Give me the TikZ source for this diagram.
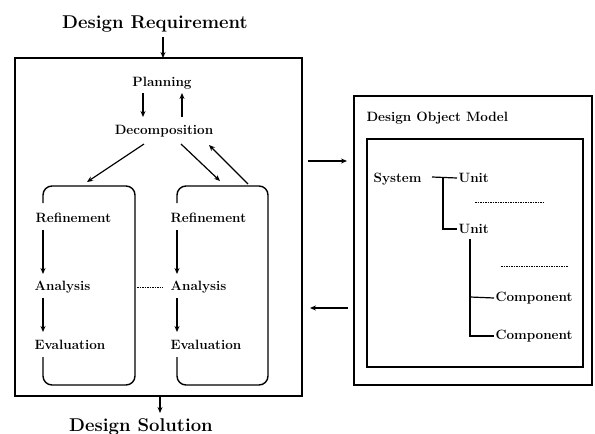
\documentclass[tikz,border=0pt]{standalone}
\usetikzlibrary{arrows.meta}
\begin{document}
\begin{tikzpicture}[x=1pt,y=-1pt,
  line width=1.2pt,
  lbl/.style={font=\fontsize{13.5}{16}\selectfont\bfseries, inner sep=1pt},
  ttl/.style={font=\fontsize{18.5}{22}\selectfont\bfseries, inner sep=1pt},
  arr/.style={-{Stealth[length=6pt,width=5pt]}},
  frame/.style={line width=1.5pt},
  cycle/.style={line width=1.4pt, rounded corners=9},
  dots/.style={line width=1pt, dash pattern=on 1.5pt off 1pt}]
\useasboundingbox (0,0) rectangle (595,434);

% titles
\node[ttl] (req) at (155,24) {Design Requirement};
\node[ttl] (sol) at (141,427) {Design Solution};

% design process frame
\draw[frame] (15,58) rectangle (302,396);
\coordinate (ftop) at (163,58);
\coordinate (fbot) at (160,396);
\coordinate (solin) at (160,413);
\draw[arr] (163,37) -- (ftop);
\draw[arr] (fbot) -- (solin);

\node[lbl] (plan) at (162,83) {Planning};
\node[lbl] (dec) at (164,131) {Decomposition};
\draw[arr] (143,93) -- (143,117);
\draw[arr] (182,117) -- (182,93);

% left cycle
\node[lbl,anchor=west] (r1) at (34,218) {Refinement};
\node[lbl,anchor=west] (a1) at (33,287) {Analysis};
\node[lbl,anchor=west] (e1) at (33,345) {Evaluation};
\draw[cycle] (43,203) -- (43,186) -- (135,186) -- (135,385) -- (43,385) -- (43,357);
\draw[arr] (43,230) -- (43,274);
\draw[arr] (43,298) -- (43,332);

% right cycle
\node[lbl,anchor=west] (r2) at (169,218) {Refinement};
\node[lbl,anchor=west] (a2) at (169,287) {Analysis};
\node[lbl,anchor=west] (e2) at (169,345) {Evaluation};
\draw[cycle] (177,203) -- (177,186) -- (268,186) -- (268,385) -- (177,385) -- (177,357);
\draw[arr] (177,230) -- (177,274);
\draw[arr] (177,298) -- (177,332);

% further cycles between the two
\draw[dots] (a2.west -| 137,0) -- ([xshift=-6pt]a2.west);

% decomposition links
\coordinate (c1) at (87,182);
\coordinate (c2) at (220,181);
\coordinate (c3) at (248,184);
\draw[arr] (144,144) -- (c1);
\draw[arr] (181,144) -- (c2);
\draw[arr] (c3) -- (209,145);

% object model frames
\draw[frame] (354,96) rectangle (592,385);
\draw[frame] (367,139) rectangle (583,367);
\node[lbl,anchor=west] (dom) at (365,118) {Design Object Model};

\coordinate (pr) at (347,161);
\coordinate (pl) at (310,308);
\draw[arr] (308,161) -- (pr);
\draw[arr] (348,308) -- (pl);

% hierarchy
\node[lbl,anchor=west] (sys) at (372,179) {System};
\node[lbl,anchor=west] (u1) at (457,178) {Unit};
\node[lbl,anchor=west] (u2) at (457,229) {Unit};
\node[lbl,anchor=west] (cp1) at (494,298) {Component};
\node[lbl,anchor=west] (cp2) at (494,336) {Component};
\draw (432,177) -- (u1.west);
\draw (443,177) |- (u2.west);
\draw (470,239) |- (cp2.west);
\draw (470,297) -- (cp1.west);
\draw[dots] (475,202) -- (543,202);
\draw[dots] (501,266) -- (568,266);
\end{tikzpicture}
\end{document}
